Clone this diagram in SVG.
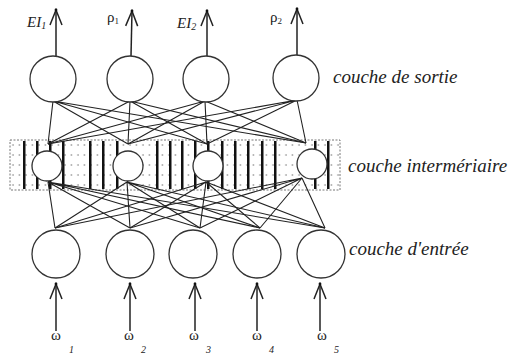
<svg xmlns="http://www.w3.org/2000/svg" width="515" height="356" viewBox="0 0 515 356">
<style>
.node{fill:#fff;stroke:#333;stroke-width:1.3}
.link{stroke:#222;stroke-width:1.1;fill:none}
.arrow{stroke:#222;stroke-width:1.5;fill:none;marker-end:url(#ah)}
.bar{fill:#111}
</style>
<defs>
<marker id="ah" markerUnits="userSpaceOnUse" markerWidth="20" markerHeight="20" refX="0" refY="0" orient="auto" overflow="visible">
<path d="M-15,-6 L0,0 L-15,6" fill="none" stroke="#222" stroke-width="1.5"/>
<circle cx="0" cy="0" r="1.4" fill="#111"/>
</marker>
<pattern id="dots" patternUnits="userSpaceOnUse" width="6.5" height="10" x="10" y="140">
<circle cx="3" cy="5" r="0.8" fill="#777"/>
</pattern>
</defs>
<rect width="515" height="356" fill="#fff"/>

<g id="band">
<rect x="10" y="140" width="330" height="50" fill="url(#dots)" stroke="#777" stroke-width="1" stroke-dasharray="2,1.5"/>
<g class="bar">
<rect x="23" y="141" width="2.5" height="48"/>
<rect x="36" y="141" width="2.5" height="48"/>
<rect x="49" y="141" width="2.5" height="48"/>
<rect x="62" y="141" width="2.5" height="48"/>
<rect x="89" y="141" width="2.5" height="48"/>
<rect x="102" y="141" width="2.5" height="48"/>
<rect x="116" y="141" width="2.5" height="48"/>
<rect x="156" y="141" width="2.5" height="48"/>
<rect x="169" y="141" width="2.5" height="48"/>
<rect x="181" y="141" width="2.5" height="48"/>
<rect x="194" y="141" width="2.5" height="48"/>
<rect x="207" y="141" width="2.5" height="48"/>
<rect x="221" y="141" width="2.5" height="48"/>
<rect x="234" y="141" width="2.5" height="48"/>
<rect x="247" y="141" width="2.5" height="48"/>
<rect x="261" y="141" width="2.5" height="48"/>
<rect x="274" y="141" width="2.5" height="48"/>
<rect x="314" y="141" width="2.5" height="48"/>
<rect x="327" y="141" width="2.5" height="48"/>
</g>
</g>

<g id="connectors">
<g class="link">
<path d="M53,101 L48,144 M53,101 L128,144 M53,101 L207,144 M53,101 L306,143"/>
<path d="M130,101 L48,144 M130,101 L128,144 M130,101 L207,144 M130,101 L306,143"/>
<path d="M205,101 L48,144 M205,101 L128,144 M205,101 L207,144 M205,101 L306,143"/>
<path d="M297,100 L48,144 M297,100 L128,144 M297,100 L207,144 M297,100 L306,143"/>
<path d="M48,182 L55,228 M48,182 L130,228 M48,182 L200,228 M48,182 L260,228 M48,182 L325,228"/>
<path d="M127,182 L55,228 M127,182 L130,228 M127,182 L200,228 M127,182 L260,228 M127,182 L325,228"/>
<path d="M206,182 L55,228 M206,182 L130,228 M206,182 L200,228 M206,182 L260,228 M206,182 L325,228"/>
<path d="M302,178 L55,228 M302,178 L130,228 M302,178 L200,228 M302,178 L260,228 M302,178 L325,228"/>
</g>
<line class="arrow" x1="56" y1="56" x2="56" y2="10"/>
<line class="arrow" x1="131" y1="56" x2="132" y2="11"/>
<line class="arrow" x1="207" y1="56" x2="207" y2="11"/>
<line class="arrow" x1="297" y1="55" x2="297" y2="9"/>
<line class="arrow" x1="56" y1="331" x2="56" y2="284"/>
<line class="arrow" x1="130" y1="331" x2="130" y2="284"/>
<line class="arrow" x1="195" y1="331" x2="195" y2="284"/>
<line class="arrow" x1="257" y1="331" x2="257" y2="284"/>
<line class="arrow" x1="320" y1="331" x2="320" y2="284"/>
</g>

<g id="out1"><circle class="node" cx="53" cy="79" r="23"/></g>
<g id="out2"><circle class="node" cx="130" cy="79" r="23"/></g>
<g id="out3"><circle class="node" cx="206" cy="79" r="23"/></g>
<g id="out4"><circle class="node" cx="296" cy="78" r="23"/></g>

<g id="hid1"><circle class="node" cx="47" cy="166" r="15"/></g>
<g id="hid2"><circle class="node" cx="128" cy="166" r="15"/></g>
<g id="hid3"><circle class="node" cx="208" cy="166" r="15"/></g>
<g id="hid4"><circle class="node" cx="312" cy="164" r="15"/></g>

<g id="in1"><circle class="node" cx="56" cy="254" r="24"/></g>
<g id="in2"><circle class="node" cx="130" cy="254" r="24"/></g>
<g id="in3"><circle class="node" cx="193" cy="254" r="24"/></g>
<g id="in4"><circle class="node" cx="257" cy="254" r="24"/></g>
<g id="in5"><circle class="node" cx="321" cy="254" r="24"/></g>

<g id="labels" font-family="Liberation Serif, DejaVu Serif, serif" fill="#222">
<text x="27" y="27" font-size="15" font-style="italic">EI<tspan font-size="10" dy="2">1</tspan></text>
<text x="107" y="22" font-size="15">ρ<tspan font-size="9" dy="2">1</tspan></text>
<text x="177" y="28" font-size="15" font-style="italic">EI<tspan font-size="10" dy="2">2</tspan></text>
<text x="270" y="22" font-size="15">ρ<tspan font-size="9" dy="2">2</tspan></text>

<g font-size="19" font-style="italic">
<text x="333" y="83">couche de sortie</text>
<text x="348" y="172">couche intermériaire</text>
<text x="349" y="255">couche d'entrée</text>
</g>

<g font-size="15">
<text x="51" y="340">ω</text>
<text x="124" y="340">ω</text>
<text x="189" y="340">ω</text>
<text x="252" y="340">ω</text>
<text x="317" y="340">ω</text>
</g>
<g font-size="10" font-style="italic">
<text x="69" y="353">1</text>
<text x="141" y="353">2</text>
<text x="206" y="353">3</text>
<text x="269" y="353">4</text>
<text x="334" y="353">5</text>
</g>
</g>
</svg>
